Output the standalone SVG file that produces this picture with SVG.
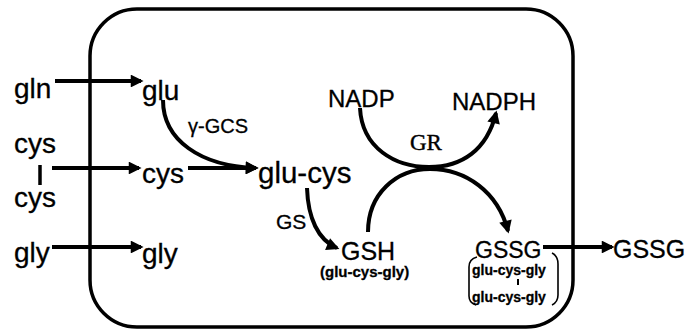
<svg xmlns="http://www.w3.org/2000/svg" width="688" height="336" viewBox="0 0 688 336">
<defs>
<style>
.t{font-family:"Liberation Sans",Arial,sans-serif;fill:#000;stroke:#000;stroke-width:0.3}
.big{font-size:28px}
.mid{font-size:24px}
.sm{font-size:15px;font-weight:bold}
.serif{font-family:"Liberation Serif","Times New Roman",serif;fill:#000;stroke:#000;stroke-width:0.4}
.ln{fill:none;stroke:#000;stroke-width:4;stroke-linecap:butt}
.thin{fill:none;stroke:#000;stroke-width:1.6}
</style>
<marker id="ah" viewBox="0 0 10 10" refX="8" refY="5" markerWidth="3.4" markerHeight="3.2" orient="auto" markerUnits="strokeWidth">
<path d="M0,0 L10,5 L0,10 z" fill="#000"/>
</marker>
</defs>
<rect width="688" height="336" fill="#fff"/>
<g id="cell"><rect x="90" y="9" width="483" height="318" rx="47" ry="47" fill="none" stroke="#000" stroke-width="3.5"/></g>

<g id="connectors">
<path class="ln" d="M55,81 L141,81" marker-end="url(#ah)"/>
<path class="ln" d="M52,168 L139,168" marker-end="url(#ah)"/>
<path class="ln" d="M52,247 L141,247" marker-end="url(#ah)"/>
<path class="ln" d="M188,168 L256,168" marker-end="url(#ah)"/>
<path class="ln" d="M163,100 C163,140 200,166 256,168" marker-end="url(#ah)"/>
<path class="ln" d="M307,188 C308,218 318,240 337,248" marker-end="url(#ah)"/>
<path class="ln" d="M360,108 C362,148 395,167 429,167 C462,167 487,150 496,113" marker-end="url(#ah)"/>
<path class="ln" d="M368,232 C368,194 396,169 430,169 C466,169 498,192 508,231" marker-end="url(#ah)"/>
<path class="ln" d="M543,247 L612,247" marker-end="url(#ah)"/>
<line x1="40" y1="165" x2="40" y2="185" stroke="#000" stroke-width="3.5"/>
<line x1="518" y1="279" x2="518" y2="285" stroke="#000" stroke-width="2"/>
<path class="thin" d="M477,257 Q469,259 469,267 L469,296 Q469,303 476,305"/>
<path class="thin" d="M552,253 Q558,256 558,264 L558,295 Q558,302 552,305"/>
</g>

<g id="gln"><text class="t big" x="14" y="98">gln</text></g>
<g id="glu"><text class="t big" x="142" y="100">glu</text></g>
<g id="cys-left-top"><text class="t big" x="14" y="153">cys</text></g>
<g id="cys-left-bottom"><text class="t big" x="14" y="207">cys</text></g>
<g id="gly-left"><text class="t big" x="14" y="262">gly</text></g>
<g id="cys"><text class="t big" x="142" y="183">cys</text></g>
<g id="gly"><text class="t big" x="142" y="263">gly</text></g>
<g id="gamma-gcs"><text class="t" font-size="20" x="188" y="133">γ-GCS</text></g>
<g id="glu-cys"><text class="t" font-size="29.5" x="258" y="183">glu-cys</text></g>
<g id="gs"><text class="t" font-size="21" x="276" y="229">GS</text></g>
<g id="gsh"><text class="t" font-size="25" x="341" y="260">GSH</text>
<text class="t sm" x="320" y="277">(glu-cys-gly)</text></g>
<g id="nadp"><text class="t mid" x="328" y="107">NADP</text></g>
<g id="nadph"><text class="t mid" x="452" y="110">NADPH</text></g>
<g id="gr"><text class="serif" font-size="23" x="410" y="150">GR</text></g>
<g id="gssg-in"><text class="t" font-size="23" x="475" y="258">GSSG</text>
<text class="t" font-size="14" font-weight="bold" x="472" y="275">glu-cys-gly</text>
<text class="t" font-size="14" font-weight="bold" x="472" y="302">glu-cys-gly</text></g>
<g id="gssg-out"><text class="t" font-size="25" x="613" y="258">GSSG</text></g>
</svg>
